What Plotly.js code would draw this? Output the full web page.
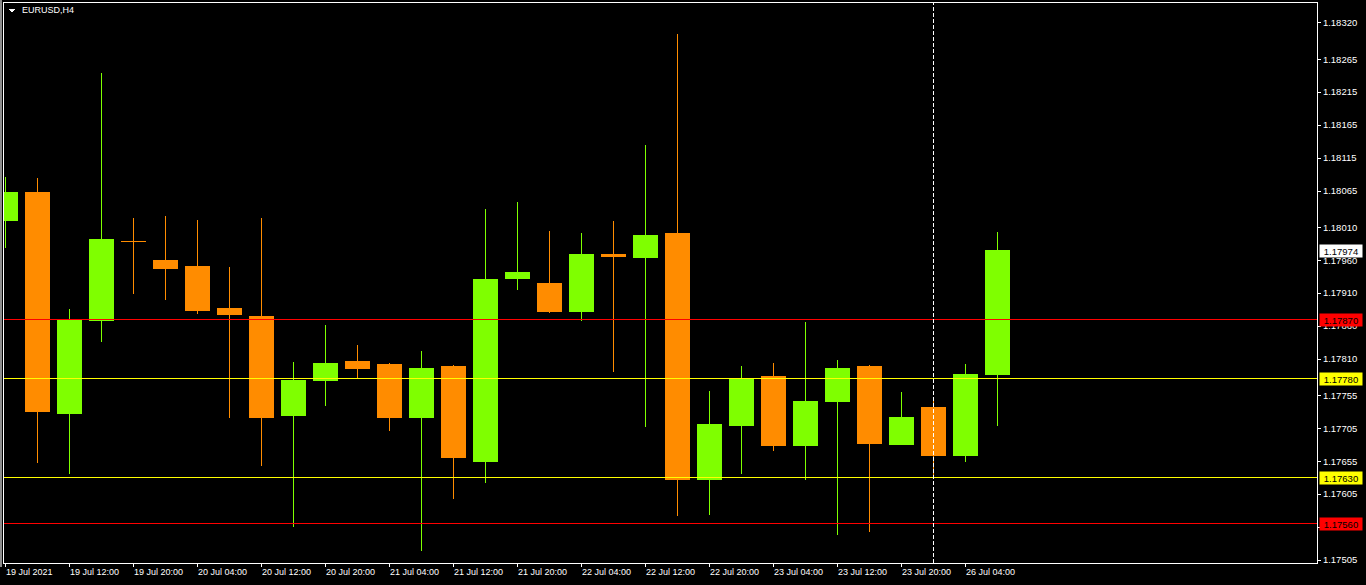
<!DOCTYPE html>
<html>
<head>
<meta charset="utf-8">
<script src="https://cdn.plot.ly/plotly-3.0.1.min.js"></script>
<style>
html,body{margin:0;padding:0;background:#000;}
#chart{width:1366px;height:585px;}
#chart .shapelayer path, #chart .trace.boxes path{shape-rendering:crispEdges;}
</style>
</head>
<body>
<div id="chart"></div>
<script>
// Bar times (H4)
const categories = [
  '19 Jul 04:00','19 Jul 08:00','19 Jul 12:00','19 Jul 16:00','19 Jul 20:00',
  '20 Jul 00:00','20 Jul 04:00','20 Jul 08:00','20 Jul 12:00','20 Jul 16:00','20 Jul 20:00',
  '21 Jul 00:00','21 Jul 04:00','21 Jul 08:00','21 Jul 12:00','21 Jul 16:00','21 Jul 20:00',
  '22 Jul 00:00','22 Jul 04:00','22 Jul 08:00','22 Jul 12:00','22 Jul 16:00','22 Jul 20:00',
  '23 Jul 00:00','23 Jul 04:00','23 Jul 08:00','23 Jul 12:00','23 Jul 16:00','23 Jul 20:00',
  '26 Jul 00:00','26 Jul 04:00','26 Jul 08:00'
];
const openValues = [1.18021,1.18062,1.17727,1.17869,1.17989,1.17960,1.17950,1.17886,1.17875,1.17724,1.17777,1.17806,1.17801,1.17721,1.17798,1.17654,1.17932,1.17924,1.17882,1.17968,1.17964,1.18000,1.17627,1.17709,1.17784,1.17679,1.17745,1.17798,1.17680,1.17736,1.17663,1.17786];
const highValues = [1.18086,1.18085,1.17886,1.18244,1.18024,1.18027,1.18021,1.17950,1.18024,1.17806,1.17862,1.17831,1.17804,1.17822,1.17801,1.18038,1.18048,1.18004,1.18001,1.18019,1.18135,1.18303,1.17762,1.17799,1.17804,1.17866,1.17809,1.17801,1.17760,1.17749,1.17802,1.18003];
const lowValues = [1.17979,1.17653,1.17636,1.17836,1.17909,1.17900,1.17878,1.17721,1.17648,1.17555,1.17739,1.17779,1.17701,1.17519,1.17597,1.17622,1.17915,1.17880,1.17867,1.17791,1.17707,1.17572,1.17574,1.17636,1.17671,1.17627,1.17543,1.17548,1.17680,1.17631,1.17654,1.17709];
const closeValues = [1.18063,1.17730,1.17868,1.17991,1.17988,1.17947,1.17884,1.17878,1.17722,1.17777,1.17804,1.17796,1.17721,1.17796,1.17660,1.17931,1.17942,1.17882,1.17969,1.17965,1.17998,1.17627,1.17710,1.17779,1.17679,1.17745,1.17796,1.17682,1.17722,1.17663,1.17786,1.17974];

// Time axis labels
const xTickCats = ['19 Jul 04:00','19 Jul 12:00','19 Jul 20:00','20 Jul 04:00','20 Jul 12:00','20 Jul 20:00','21 Jul 04:00','21 Jul 12:00','21 Jul 20:00','22 Jul 04:00','22 Jul 12:00','22 Jul 20:00','23 Jul 04:00','23 Jul 12:00','23 Jul 20:00','26 Jul 04:00'];
const xTickLabels = ['19 Jul 2021','19 Jul 12:00','19 Jul 20:00','20 Jul 04:00','20 Jul 12:00','20 Jul 20:00','21 Jul 04:00','21 Jul 12:00','21 Jul 20:00','22 Jul 04:00','22 Jul 12:00','22 Jul 20:00','23 Jul 04:00','23 Jul 12:00','23 Jul 20:00','26 Jul 04:00'];

// Price axis labels
const yTickValues = [1.18320,1.18265,1.18215,1.18165,1.18115,1.18065,1.18010,1.17960,1.17910,1.17860,1.17810,1.17755,1.17705,1.17655,1.17605,1.17555,1.17505];

// Horizontal levels
const levelValues = [1.17870,1.17780,1.17630,1.17560];
const levelColors = ['#ff0000','#ffff00','#ffff00','#ff0000'];
const currentPrice = 1.17974;
const separatorBar = '26 Jul 00:00';
const symbolTitle = 'EURUSD,H4';

const UP = '#7fff00', DOWN = '#ff8c00';
const FONT = 'Liberation Sans, Arial, sans-serif';

const trace = {
  type:'candlestick',
  x:categories, open:openValues, high:highValues, low:lowValues, close:closeValues,
  increasing:{line:{color:UP,width:1},fillcolor:UP},
  decreasing:{line:{color:DOWN,width:1},fillcolor:DOWN},
  whiskerwidth:0,
  hoverinfo:'skip'
};

const shapes = levelValues.map((v,i)=>({
  type:'line', xref:'paper', x0:0, x1:1, yref:'y', y0:v, y1:v,
  line:{color:levelColors[i], width:1}, layer:'above'
}));
shapes.push({type:'line', xref:'x', x0:separatorBar, x1:separatorBar, yref:'paper', y0:0, y1:1,
  line:{color:'#ffffff', width:1, dash:'4px,2px'}, layer:'above'});
// window edge
shapes.push({type:'line', xref:'paper', x0:-0.0023, x1:-0.0023, yref:'paper', y0:-0.008, y1:1.006,
  line:{color:'#8c8c8c', width:2}});
// title triangle
shapes.push({type:'path', xref:'paper', yref:'paper', xsizemode:'pixel', ysizemode:'pixel',
  xanchor:0, yanchor:1, path:'M4,-6 L11,-6 L7.5,-9.5 Z', fillcolor:'#ffffff', line:{color:'#ffffff',width:0}});

const annotations = levelValues.map((v,i)=>({
  xref:'paper', x:1, xanchor:'left', xshift:2, yref:'y', y:v, yanchor:'middle',
  text:v.toFixed(5), showarrow:false, bgcolor:levelColors[i], width:40, height:10, borderpad:1,
  font:{family:FONT, size:9.5, color:'#000'}
}));
annotations.push({
  xref:'paper', x:1, xanchor:'left', xshift:2, yref:'y', y:currentPrice, yanchor:'middle',
  text:currentPrice.toFixed(5), showarrow:false, bgcolor:'#ffffff', width:40, height:10, borderpad:1,
  font:{family:FONT, size:9.5, color:'#000'}
});
annotations.push({
  xref:'paper', x:16/1313, xanchor:'left', yref:'paper', y:1-7/560, yanchor:'middle',
  text:symbolTitle, showarrow:false, font:{family:FONT, size:9, color:'#ffffff'}
});

const layout = {
  width:1366, height:585,
  paper_bgcolor:'#000', plot_bgcolor:'#000',
  margin:{l:4, r:49, t:3, b:22},
  showlegend:false,
  boxgap:0.25, boxgroupgap:0,
  font:{family:FONT, size:9.5, color:'#ffffff'},
  xaxis:{
    type:'category', categoryorder:'array', categoryarray:categories,
    range:[-0.03125, 41], rangeslider:{visible:false},
    showgrid:false, zeroline:false, showline:true, mirror:true, linecolor:'#ffffff', linewidth:1,
    ticks:'outside', ticklen:3, tickcolor:'#ffffff', tickwidth:1,
    tickmode:'array', tickvals:xTickCats, ticktext:xTickLabels,
    ticklabelposition:'outside right',
    tickfont:{family:FONT, size:9, color:'#ffffff'}, fixedrange:true
  },
  yaxis:{
    side:'right', range:[1.175005, 1.183503],
    showgrid:false, zeroline:false, showline:true, mirror:true, linecolor:'#ffffff', linewidth:1,
    ticks:'outside', ticklen:3, tickcolor:'#ffffff', tickwidth:1,
    tickmode:'array', tickvals:yTickValues, ticktext:yTickValues.map(v=>v.toFixed(5)),
    tickfont:{family:FONT, size:9.5, color:'#ffffff'}, fixedrange:true
  },
  shapes:shapes,
  annotations:annotations
};

Plotly.newPlot('chart',[trace],layout,{staticPlot:true, displayModeBar:false});
</script>
</body>
</html>
